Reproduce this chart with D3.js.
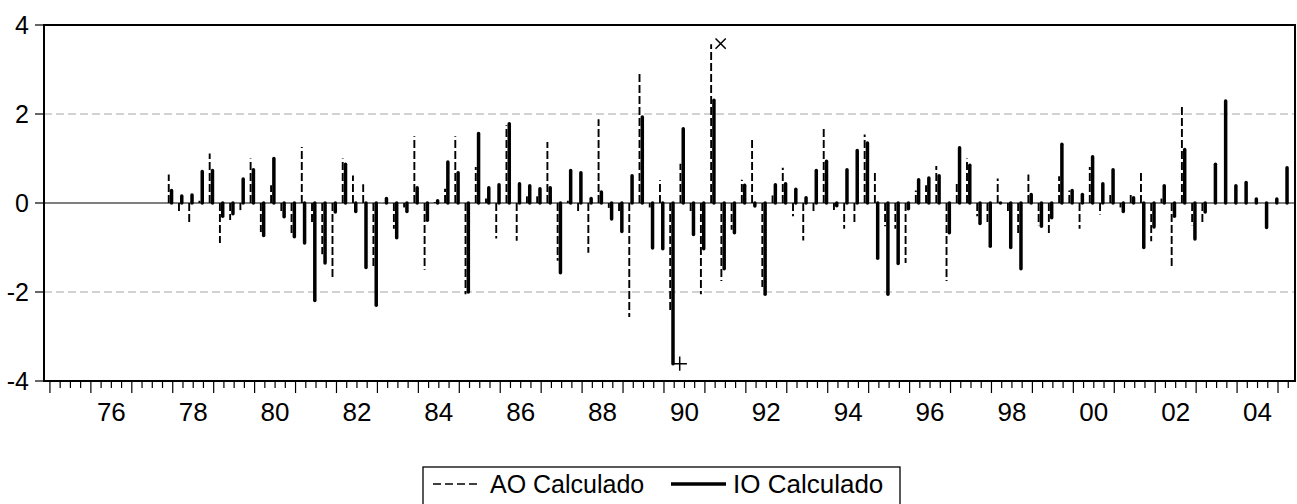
<!DOCTYPE html>
<html>
<head>
<meta charset="utf-8">
<script src="https://cdn.jsdelivr.net/npm/d3@7"></script>
<style>
  body { margin: 0; background: #fff; }
  text { font-family: "Liberation Sans", Arial, sans-serif; fill: #000; }
</style>
</head>
<body>
<script>
// quarters counted from 1975Q1 = 0; data runs 1978Q1 .. 2005Q2
var firstObs = 12;
var nQuarters = 122;

var aoCalc = [0.64, -0.19, -0.45, 0.05, 1.11, -0.9, -0.38, -0.16, 1.0, -0.65,
  0.4, -0.2, -0.7, 1.26, -0.45, -1.15, -1.7, 1.0, 0.62, 0.42,
  -1.44, 0.0, -0.58, -0.1, 1.5, -1.5, 0.02, 0.32, 1.5, -2.05,
  0.81, 0.1, -0.8, 1.75, -0.85, 0.15, 0.15, 1.37, -1.3, 0.05,
  -0.2, -1.12, 1.88, -0.11, -0.22, -2.56, 2.91, -0.1, 0.51, -2.41,
  0.88, -0.24, -2.05, 3.57, -1.75, -0.6, 0.52, 1.48, -1.89, 0.17,
  0.79, -0.3, -0.84, -0.22, 1.69, -0.16, -0.58, -0.48, 1.54, 0.71,
  -0.52, -0.58, -1.35, 0.28, 0.4, 0.83, -1.75, 0.43, 1.0, -0.3,
  -0.45, 0.55, -0.2, -0.7, 0.64, -0.5, -0.69, 0.6, 0.28, -0.58,
  0.81, -0.26, 0.2, -0.1, 0.22, 0.68, -0.86, 0.1, -1.44, 2.2,
  -0.5, -0.43, null, null, null, null, null, null, null, null];

var ioCalc = [0.28, 0.16, 0.18, 0.71, 0.73, -0.3, -0.24, 0.54, 0.75, -0.73,
  1.0, -0.31, -0.76, -0.9, -2.19, -1.35, -0.2, 0.87, -0.19, -1.45,
  -2.3, 0.1, -0.78, -0.19, 0.34, -0.39, 0.05, 0.92, 0.68, -2.0,
  1.56, 0.34, 0.41, 1.78, 0.43, 0.39, 0.32, 0.34, -1.57, 0.73,
  0.68, 0.1, 0.25, -0.36, -0.64, 0.61, 1.93, -1.01, -1.03, -3.61,
  1.67, -0.71, -1.03, 2.31, -1.48, -0.67, 0.4, -0.07, -2.05, 0.41,
  0.43, 0.31, 0.12, 0.73, 0.94, -0.06, 0.75, 1.18, 1.35, -1.24,
  -2.05, -1.36, -0.13, 0.52, 0.56, 0.61, -0.67, 1.24, 0.85, -0.46,
  -0.97, 0.0, -1.0, -1.48, 0.19, -0.52, -0.33, 1.32, 0.28, 0.19,
  1.04, 0.43, 0.75, -0.19, 0.12, -1.0, -0.54, 0.39, -0.3, 1.2,
  -0.81, -0.2, 0.87, 2.29, 0.39, 0.46, 0.09, -0.55, 0.09, 0.79];

var yTicks = [-4, -2, 0, 2, 4];
var gridValues = [-2, 2];
var yearLabels = ["76", "78", "80", "82", "84", "86", "88", "90", "92", "94", "96", "98", "00", "02", "04"];
var labelQuarters = [6, 14, 22, 30, 38, 46, 54, 62, 70, 78, 86, 94, 102, 110, 118];
var marks = [{q: 65, v: 3.58, shape: "x"}, {q: 61, v: -3.61, shape: "+"}];

var W = 1297, H = 504;
var margin = {top: 25, right: 2, bottom: 123, left: 44};

var x = d3.scaleLinear().domain([-0.58, 121.66]).range([margin.left, W - margin.right]);
var y = d3.scaleLinear().domain([-4, 4]).range([H - margin.bottom, margin.top]);

var svg = d3.select("body").append("svg")
    .attr("width", W)
    .attr("height", H);

// grid
svg.selectAll(".grid").data(gridValues).enter().append("line")
    .attr("x1", x.range()[0]).attr("x2", x.range()[1])
    .attr("y1", d => y(d)).attr("y2", d => y(d))
    .attr("stroke", "#a6a6a6").attr("stroke-width", 1.2)
    .attr("stroke-dasharray", "8,4");

svg.append("line")
    .attr("x1", x.range()[0]).attr("x2", x.range()[1])
    .attr("y1", y(0)).attr("y2", y(0))
    .attr("stroke", "#555").attr("stroke-width", 1.3);

var obs = ioCalc.map(function(v, i) {
  return {q: firstObs + i, ao: aoCalc[i], io: v};
});

// AO spikes (dashed)
svg.selectAll(".ao").data(obs.filter(d => d.ao !== null)).enter().append("line")
    .attr("x1", d => x(d.q) - 4).attr("x2", d => x(d.q) - 4)
    .attr("y1", y(0)).attr("y2", d => y(d.ao))
    .attr("stroke", "#000").attr("stroke-width", 1.9)
    .attr("stroke-dasharray", "8,3");

// IO spikes (solid)
svg.selectAll(".io").data(obs).enter().append("line")
    .attr("x1", d => x(d.q) - 1.2).attr("x2", d => x(d.q) - 1.2)
    .attr("y1", y(0)).attr("y2", d => y(d.io))
    .attr("stroke", "#000").attr("stroke-width", 3.5)
    .attr("stroke-linecap", "round");

// extreme markers
svg.selectAll(".mark").data(marks).enter().append("path")
    .attr("transform", d => "translate(" + (x(d.q) + 5.5) + "," + y(d.v) + ")")
    .attr("d", d => d3.symbol(d.shape === "x" ? d3.symbolTimes : d3.symbolPlus, 70)())
    .attr("fill", "none").attr("stroke", "#000").attr("stroke-width", 1.5);

// frame
svg.append("rect")
    .attr("x", x.range()[0]).attr("y", y(4))
    .attr("width", x.range()[1] - x.range()[0])
    .attr("height", y(-4) - y(4))
    .attr("fill", "none").attr("stroke", "#000").attr("stroke-width", 2);

// y axis
svg.selectAll(".ytick").data(yTicks).enter().append("line")
    .attr("x1", x.range()[0] - 9).attr("x2", x.range()[0])
    .attr("y1", d => y(d)).attr("y2", d => y(d))
    .attr("stroke", "#000").attr("stroke-width", 1.2);

svg.selectAll(".ylab").data(yTicks).enter().append("text")
    .attr("x", x.range()[0] - 15)
    .attr("y", d => y(d) + 9)
    .attr("text-anchor", "end")
    .style("font-size", "25px")
    .text(d => d);

// x axis ticks (quarters, years longer)
svg.selectAll(".xtick").data(d3.range(nQuarters)).enter().append("line")
    .attr("x1", d => x(d)).attr("x2", d => x(d))
    .attr("y1", y(-4))
    .attr("y2", d => y(-4) + (d % 4 === 0 ? 12 : 7))
    .attr("stroke", "#000").attr("stroke-width", 1.2);

svg.selectAll(".xlab").data(yearLabels).enter().append("text")
    .attr("x", (d, i) => x(labelQuarters[i]))
    .attr("y", 421)
    .attr("text-anchor", "middle")
    .style("font-size", "26px")
    .text(d => d);

// legend
var lg = svg.append("g");
lg.append("rect")
    .attr("x", 423).attr("y", 467)
    .attr("width", 477).attr("height", 45)
    .attr("fill", "#fff").attr("stroke", "#000").attr("stroke-width", 1.3);
lg.append("line")
    .attr("x1", 433).attr("x2", 481).attr("y1", 484).attr("y2", 484)
    .attr("stroke", "#000").attr("stroke-width", 1.6).attr("stroke-dasharray", "8,4");
lg.append("text").attr("x", 490).attr("y", 493).style("font-size", "25px").text("AO Calculado");
lg.append("line")
    .attr("x1", 671).attr("x2", 726).attr("y1", 484).attr("y2", 484)
    .attr("stroke", "#000").attr("stroke-width", 3.4);
lg.append("text").attr("x", 733).attr("y", 493).style("font-size", "26px").text("IO Calculado");
</script>
</body>
</html>
